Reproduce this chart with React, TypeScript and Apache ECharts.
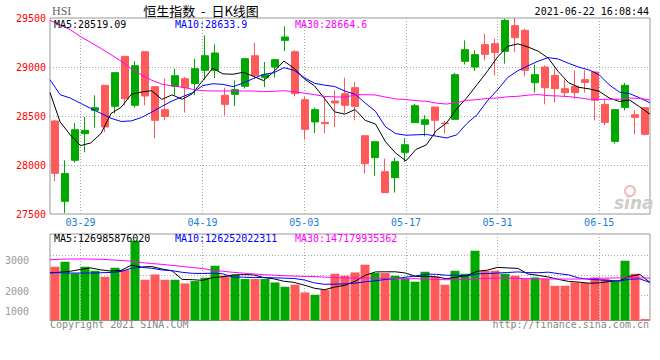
import React, { useEffect, useRef } from "react";
import * as echarts from "echarts";

// ---- data ----
const dates = [
  "03-24","03-25","03-26","03-29","03-30","03-31","04-01","04-07","04-08","04-09",
  "04-12","04-13","04-14","04-15","04-16","04-19","04-20","04-21","04-22","04-23",
  "04-26","04-27","04-28","04-29","04-30","05-03","05-04","05-05","05-06","05-07",
  "05-10","05-11","05-12","05-13","05-14","05-17","05-18","05-20","05-21","05-24",
  "05-25","05-26","05-27","05-28","05-31","06-01","06-02","06-03","06-04","06-07",
  "06-08","06-09","06-10","06-11","06-15","06-16","06-17","06-18","06-21","06-22",
];
const labeledDates = ["03-29", "04-19", "05-03", "05-17", "05-31", "06-15"];

const openP = [
  28449, 27629, 28048, 28320, 28558, 28813, 28599, 29109, 28609, 29156,
  28799, 28565, 28803, 28881, 28830, 28966, 28966, 28711, 28721, 28803,
  29115, 28891, 29000, 29272, 29156, 28667, 28439, 28435, 28653, 28728,
  28789, 28299, 28075, 27932, 27871, 28129, 28432, 28415, 28592, 28428,
  28466, 29058, 29000, 29228, 29238, 29160, 29422, 29374, 28840, 29000,
  28915, 28779, 28803, 28871, 28949, 28619, 28241, 28588, 28513, 28585,
];
const closeP = [
  27915, 27912, 28360, 28354, 28585, 28388, 28942, 28677, 29013, 28704,
  28456, 28496, 28911, 28789, 28983, 29115, 29143, 28619, 28769, 29085,
  28911, 28922, 29075, 29306, 28728, 28364, 28565, 28422, 28633, 28609,
  28599, 28014, 28238, 27718, 28034, 28207, 28605, 28462, 28456, 28422,
  28922, 29177, 29126, 29129, 29149, 29476, 29299, 28966, 28922, 28789,
  28779, 28738, 28738, 28843, 28660, 28435, 28565, 28813, 28486, 28313,
];
const lowP = [
  27833, 27510, 28024, 28129, 28381, 28337, 28524, 28609, 28585, 28609,
  28272, 28456, 28711, 28534, 28711, 28871, 28888, 28507, 28599, 28780,
  28881, 28796, 28891, 29163, 28701, 28258, 28326, 28326, 28388, 28531,
  28456, 27912, 27891, 27718, 27718, 28031, 28432, 28292, 28303, 28320,
  28466, 29027, 28959, 29068, 28915, 29034, 29153, 28905, 28738, 28619,
  28636, 28694, 28677, 28738, 28456, 28408, 28218, 28558, 28313, 28303,
];
const highP = [
  28460, 28048, 28428, 28490, 28711, 28813, 28942, 29109, 29061, 29156,
  28799, 28881, 28983, 28898, 29085, 29323, 29231, 28789, 28864, 29085,
  29245, 29051, 29075, 29415, 29170, 28694, 28585, 28694, 28762, 28891,
  28847, 28299, 28238, 28065, 28075, 28275, 28626, 28507, 28592, 28449,
  28939, 29272, 29170, 29340, 29289, 29493, 29500, 29391, 29024, 29017,
  28983, 28871, 28966, 28966, 28959, 28667, 28565, 28837, 28558, 28585,
];
const ma5 = [
  28739, 28438, 28307, 28198, 28225, 28320, 28526, 28589, 28721, 28745,
  28758, 28669, 28716, 28671, 28727, 28859, 28988, 28930, 28926, 28946,
  28905, 28861, 28952, 29060, 28988, 28879, 28808, 28677, 28542, 28519,
  28566, 28455, 28419, 28236, 28121, 28042, 28160, 28205, 28353, 28430,
  28573, 28688, 28821, 28955, 29101, 29211, 29236, 29204, 29162, 29090,
  28951, 28839, 28793, 28777, 28752, 28683, 28648, 28663, 28592, 28519,
];
const ma10 = [
  28870, 28717, 28683, 28630, 28578, 28527, 28477, 28444, 28450, 28485,
  28539, 28598, 28653, 28696, 28736, 28809, 28829, 28823, 28799, 28837,
  28882, 28925, 28941, 28993, 28967, 28892, 28834, 28815, 28801, 28754,
  28722, 28632, 28548, 28389, 28320, 28304, 28308, 28312, 28294, 28276,
  28308, 28424, 28513, 28654, 28766, 28892, 28962, 29012, 29059, 29096,
  29081, 29037, 28999, 28970, 28921, 28817, 28744, 28728, 28685, 28634,
];
const ma30 = [
  29475, 29430, 29380, 29310, 29250, 29190, 29125, 29060, 28982, 28920,
  28865, 28825, 28808, 28795, 28773, 28758, 28755, 28755, 28755, 28755,
  28755, 28748, 28752, 28758, 28748, 28733, 28718, 28700, 28695, 28692,
  28715, 28718, 28714, 28693, 28674, 28668, 28657, 28650, 28631, 28622,
  28637, 28660, 28667, 28679, 28684, 28696, 28701, 28713, 28718, 28708,
  28704, 28698, 28686, 28671, 28669, 28671, 28671, 28684, 28679, 28665,
];
const volume = [
  1791, 1958, 1567, 1791, 1657, 1457, 1758, 1681, 2658, 1357,
  1534, 1357, 1357, 1234, 1314, 1424, 1824, 1491, 1524, 1381,
  1381, 1381, 1267, 1124, 1191, 934, 857, 1024, 1557, 1491,
  1601, 1858, 1581, 1581, 1491, 1381, 1291, 1624, 1467, 1191,
  1657, 1557, 2324, 1657, 1657, 1557, 1491, 1381, 1434, 1381,
  1157, 1157, 1267, 1247, 1434, 1381, 1301, 1991, 1557, 47,
];
const volMa5 = [
  1581, 1610, 1640, 1700, 1753, 1686, 1646, 1669, 1842, 1782,
  1798, 1717, 1653, 1368, 1359, 1337, 1431, 1457, 1515, 1529,
  1520, 1432, 1387, 1307, 1269, 1179, 1075, 1026, 1113, 1173,
  1306, 1506, 1618, 1622, 1622, 1578, 1465, 1474, 1451, 1391,
  1446, 1499, 1639, 1677, 1770, 1750, 1737, 1549, 1504, 1449,
  1369, 1302, 1279, 1242, 1252, 1297, 1326, 1471, 1533, 1270,
];
const volMa10 = [
  1601, 1590, 1581, 1581, 1581, 1590, 1600, 1634, 1740, 1768,
  1742, 1682, 1661, 1605, 1571, 1567, 1574, 1555, 1442, 1444,
  1429, 1431, 1422, 1411, 1399, 1350, 1253, 1206, 1210, 1221,
  1243, 1290, 1322, 1368, 1398, 1442, 1486, 1546, 1537, 1507,
  1512, 1482, 1556, 1564, 1581, 1598, 1618, 1594, 1591, 1610,
  1560, 1520, 1414, 1373, 1351, 1333, 1314, 1375, 1387, 1263,
];
const volMa30 = [
  2024, 2040, 2048, 2048, 2048, 2040, 2020, 2000, 1975, 1930,
  1897, 1870, 1835, 1800, 1765, 1730, 1675, 1640, 1605, 1578,
  1550, 1525, 1510, 1491, 1480, 1470, 1462, 1445, 1434, 1420,
  1414, 1414, 1410, 1405, 1400, 1395, 1390, 1385, 1365, 1357,
  1360, 1370, 1390, 1405, 1414, 1410, 1400, 1395, 1390, 1385,
  1381, 1381, 1381, 1390, 1405, 1414, 1420, 1425, 1420, 1414,
];
const volTickLabels = ["3000", "2000", "1000"];
const priceLegend = ["MA5:28519.09", "MA10:28633.9", "MA30:28664.6"];
const volLegend = ["MA5:126985876020", "MA10:126252022311", "MA30:147179935362"];
const symbolText = "HSI";
const titleText = "恒生指数  -  日K线图";
const timeText = "2021-06-22 16:08:44";
const copyrightText = "Copyright 2021 SINA.COM";
const urlText = "http://finance.sina.com.cn";

// ---- styles ----
const MONO = '"DejaVu Sans Mono", monospace';
const UP = "#00a800";
const DOWN = "#ff5a5a";
const GRID_LINE = { color: "#a8a8a8", type: [1, 2] as number[], width: 1 };
const MA_COLORS = ["#000000", "#0000ff", "#ff00ff"];
const LEGEND_X = [54, 175, 295];
const VOL_LABEL_Y = [260, 291, 311];
const VOL_GRID_VALUES = [827, 1494, 2161];

const isLabeled = (i: number) => labeledDates.indexOf(dates[i]) >= 0;

function txt(x: number, y: number, text: string, fill: string, extra: any = {}) {
  return {
    type: "text",
    x,
    y,
    silent: true,
    z: 10,
    style: {
      text,
      fill,
      font: `10px ${MONO}`,
      align: "left",
      verticalAlign: "middle",
      ...extra,
    },
  };
}

function hiddenCat(gridIndex: number, boundaryGap: boolean, showSplit: boolean, showLabel: boolean) {
  return {
    type: "category",
    gridIndex,
    data: dates,
    boundaryGap,
    position: "bottom",
    axisLine: { show: false },
    axisTick: { show: false },
    axisLabel: showLabel
      ? {
          show: true,
          interval: (i: number) => isLabeled(i),
          color: "#1a7ed6",
          fontFamily: MONO,
          fontSize: 10,
          margin: 3,
        }
      : { show: false },
    splitLine: showSplit
      ? { show: true, interval: (i: number) => isLabeled(i), lineStyle: GRID_LINE }
      : { show: false },
  };
}

function maLine(name: string, data: number[], color: string, xi: number, yi: number) {
  return {
    name,
    type: "line",
    xAxisIndex: xi,
    yAxisIndex: yi,
    data,
    symbol: "none",
    smooth: false,
    z: 4,
    lineStyle: { color, width: 1 },
    itemStyle: { color },
  };
}

function buildOption(): any {
  return {
    animation: false,
    backgroundColor: "#ffffff",
    grid: [
      { left: 50, top: 18, width: 600, height: 196, show: true, borderColor: "#999", borderWidth: 1 },
      { left: 50, top: 234, width: 600, height: 86.5, show: true, borderColor: "#999", borderWidth: 1 },
    ],
    xAxis: [
      hiddenCat(0, true, false, false),
      hiddenCat(0, false, true, true),
      hiddenCat(1, true, false, false),
      hiddenCat(1, false, true, false),
    ],
    yAxis: [
      {
        type: "value",
        gridIndex: 0,
        min: 27500,
        max: 29500,
        interval: 500,
        axisLine: { show: false },
        axisTick: { show: false },
        axisLabel: {
          color: "#ff0000",
          fontFamily: MONO,
          fontSize: 10,
          margin: 4,
          padding: [0, 0, 4, 0],
          formatter: (v: number) => String(v),
        },
        splitLine: { show: true, showMinLine: false, showMaxLine: false, lineStyle: GRID_LINE },
      },
      {
        type: "value",
        gridIndex: 1,
        min: 0,
        max: 2881,
        axisLine: { show: false },
        axisTick: { show: false },
        axisLabel: { show: false },
        splitLine: { show: false },
      },
    ],
    series: [
      {
        type: "candlestick",
        xAxisIndex: 0,
        yAxisIndex: 0,
        barWidth: 8,
        data: dates.map((_, i) => [openP[i], closeP[i], lowP[i], highP[i]]),
        itemStyle: {
          color: UP,
          color0: DOWN,
          borderColor: UP,
          borderColor0: DOWN,
          borderWidth: 1,
        },
        z: 2,
      },
      maLine("MA5", ma5, MA_COLORS[0], 1, 0),
      maLine("MA10", ma10, MA_COLORS[1], 1, 0),
      maLine("MA30", ma30, MA_COLORS[2], 1, 0),
      {
        type: "bar",
        xAxisIndex: 2,
        yAxisIndex: 1,
        barWidth: 9,
        z: 2,
        data: volume.map((v, i) => ({
          value: v,
          itemStyle: { color: closeP[i] > openP[i] ? UP : DOWN },
        })),
        markLine: {
          silent: true,
          z: 1,
          symbol: ["none", "none"],
          label: { show: false },
          lineStyle: GRID_LINE,
          emphasis: { disabled: true },
          data: VOL_GRID_VALUES.map((v) => ({ yAxis: v })),
        },
      },
      maLine("VMA5", volMa5, MA_COLORS[0], 3, 1),
      maLine("VMA10", volMa10, MA_COLORS[1], 3, 1),
      maLine("VMA30", volMa30, MA_COLORS[2], 3, 1),
    ],
    graphic: [
      txt(52, 10.5, symbolText, "#666", { font: '12px "Liberation Serif", serif' }),
      txt(201, 10, titleText, "#000", { font: '13px "Noto Sans CJK SC", sans-serif', align: "center" }),
      txt(649, 11.5, timeText, "#000", { align: "right" }),
      ...priceLegend.map((t, i) => txt(LEGEND_X[i], 24, t, MA_COLORS[i])),
      ...volLegend.map((t, i) => txt(LEGEND_X[i], 238.5, t, MA_COLORS[i])),
      ...volTickLabels.map((t, i) => txt(5, VOL_LABEL_Y[i], t, "#999")),
      txt(50, 324, copyrightText, "#888"),
      txt(649, 324, urlText, "#888", { align: "right" }),
      {
        type: "circle",
        silent: true,
        z: 1,
        shape: { cx: 630, cy: 191, r: 5 },
        style: { fill: "none", stroke: "#f4b9b9", lineWidth: 2 },
      },
      txt(614, 203, "sina", "#cccccc", {
        font: 'italic bold 17px "DejaVu Sans", sans-serif',
        z: 1,
      }),
    ],
  };
}

export default function App() {
  const ref = useRef<HTMLDivElement>(null);
  useEffect(() => {
    if (!ref.current) return;
    const chart = echarts.init(ref.current, undefined, { renderer: "svg" });
    chart.setOption(buildOption());
    return () => chart.dispose();
  }, []);
  return (
    <div
      ref={ref}
      style={{ position: "absolute", left: 0, top: 0, width: 660, height: 360 }}
    />
  );
}
